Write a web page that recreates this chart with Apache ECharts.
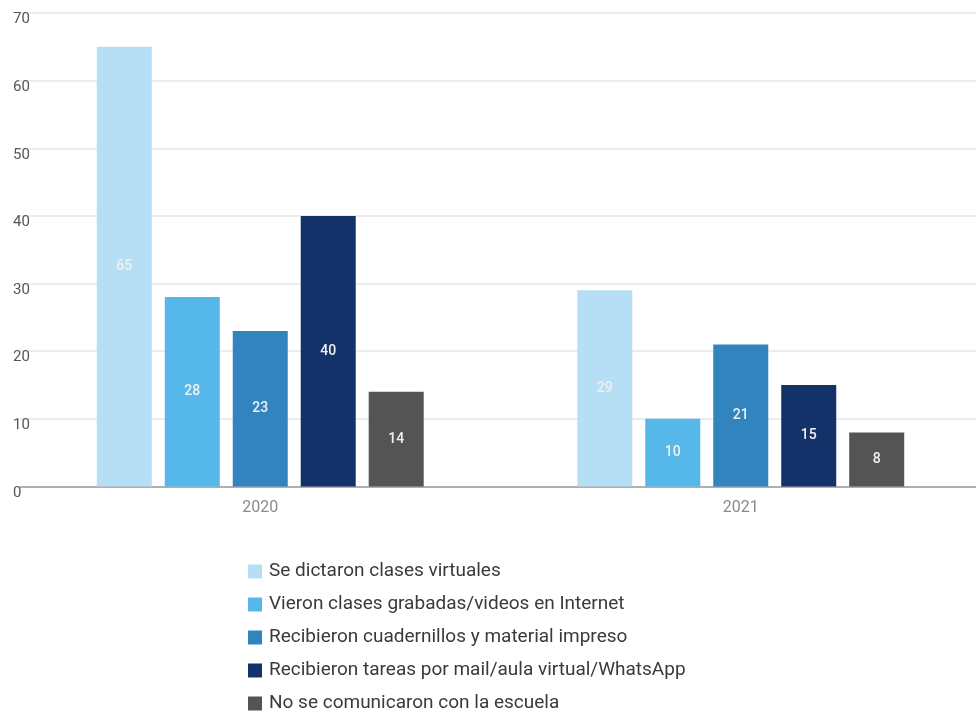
<!DOCTYPE html>
<html>
<head>
<meta charset="utf-8">
<script src="https://cdn.jsdelivr.net/npm/echarts@6/dist/echarts.min.js"></script>
<style>html,body{margin:0;padding:0;background:#fff;overflow:hidden}#c{width:981px;height:718px}</style>
</head>
<body>
<div id="c"></div>
<script>
const categories = ['2020', '2021'];
const seriesNames = [
  'Se dictaron clases virtuales',
  'Vieron clases grabadas/videos en Internet',
  'Recibieron cuadernillos y material impreso',
  'Recibieron tareas por mail/aula virtual/WhatsApp',
  'No se comunicaron con la escuela'
];
const virtuales = [65, 29];
const grabadas = [28, 10];
const cuadernillos = [23, 21];
const tareas = [40, 15];
const noComunicaron = [14, 8];
const colors = ['#b6def5', '#56b8ea', '#3284bf', '#14326a', '#535453'];
const values = [virtuales, grabadas, cuadernillos, tareas, noComunicaron];

const chart = echarts.init(document.getElementById('c'));
chart.setOption({
  animation: false,
  textStyle: { fontFamily: 'Roboto' },
  grid: { left: 20, right: 0, top: 13, bottom: 231.5, containLabel: false },
  legend: {
    orient: 'vertical',
    left: 243,
    top: 557,
    height: 160,
    icon: 'rect',
    itemWidth: 14,
    itemHeight: 14,
    itemGap: 14,
    textStyle: { fontSize: 19, color: '#3a3a3a', padding: [0, 0, 0, 2] },
    data: seriesNames
  },
  xAxis: {
    type: 'category',
    data: categories,
    axisTick: { show: false },
    axisLine: { lineStyle: { color: '#9a9a9a', width: 1.5 } },
    axisLabel: { color: '#8a8a8a', fontSize: 16, margin: 13 }
  },
  yAxis: {
    type: 'value',
    min: 0, max: 70, interval: 10,
    axisLine: { show: false },
    axisTick: { show: false },
    splitLine: { lineStyle: { color: '#e6e6e6', width: 1.5 } },
    axisLabel: { color: '#555', fontSize: 15, align: 'left', margin: 7, verticalAlign: 'top', padding: [-1, 0, 0, 0] }
  },
  series: seriesNames.map((n, i) => ({
    name: n,
    type: 'bar',
    data: values[i],
    barWidth: 55,
    barGap: '23.6%',
    itemStyle: { color: colors[i] },
    label: { show: true, position: 'inside', color: '#f0f0f0', fontSize: 14, fontWeight: 500 }
  }))
});
</script>
</body>
</html>
